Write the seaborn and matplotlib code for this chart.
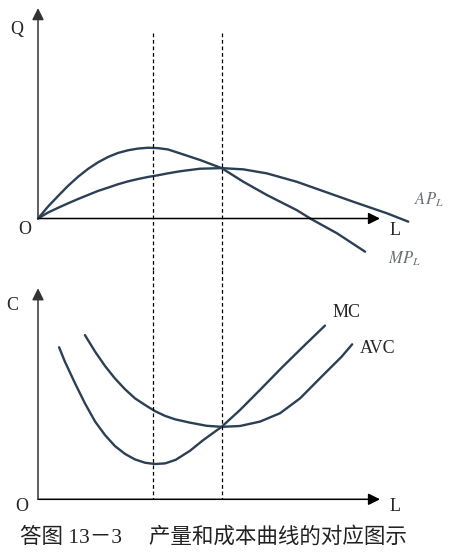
import pandas as pd
import seaborn as sns
import matplotlib.pyplot as plt

# top panel: product curves (L vs Q)
mp_L = [0, 0.29, 0.59, 0.88, 1.18, 1.47, 1.76, 2.06, 2.35, 2.65, 2.94, 3.24, 3.53, 3.82, 4.18,
        4.76, 5.40, 6.04, 6.73, 7.61, 8.05, 8.79, 9.62]
mp_Q = [0, 0.56, 1.07, 1.55, 1.99, 2.36, 2.67, 2.93, 3.12, 3.25, 3.33, 3.37, 3.35, 3.29, 3.10,
        2.79, 2.40, 1.75, 1.12, 0.40, -0.04, -0.70, -1.58]
ap_L = [0, 0.29, 0.59, 0.88, 1.18, 1.47, 1.76, 2.06, 2.35, 2.65, 2.94, 3.24, 3.53, 3.82, 4.18,
        4.76, 5.40, 6.04, 6.73, 7.61, 8.29, 9.27, 10.26, 10.89]
ap_Q = [0, 0.28, 0.51, 0.72, 0.93, 1.12, 1.31, 1.47, 1.63, 1.77, 1.88, 1.98, 2.06, 2.15, 2.25,
        2.37, 2.40, 2.34, 2.15, 1.75, 1.36, 0.80, 0.25, -0.15]

# bottom panel: cost curves (L vs C)
mc_L = [0.62, 0.79, 1.09, 1.38, 1.68, 1.97, 2.26, 2.56, 2.85, 3.15, 3.44, 3.74, 4.05, 4.47,
        4.86, 5.40, 5.94, 6.53, 7.17, 7.85, 8.44]
mc_C = [7.24, 6.56, 5.52, 4.57, 3.70, 3.06, 2.54, 2.16, 1.90, 1.74, 1.68, 1.71, 1.88, 2.31,
        2.82, 3.45, 4.25, 5.21, 6.27, 7.35, 8.27]
avc_L = [1.38, 1.68, 1.97, 2.26, 2.56, 2.85, 3.15, 3.44, 3.74, 4.03, 4.47, 4.96, 5.40, 5.94,
         6.53, 7.12, 7.71, 8.34, 8.93, 9.24]
avc_C = [7.82, 7.03, 6.35, 5.76, 5.24, 4.81, 4.49, 4.20, 3.97, 3.81, 3.65, 3.50, 3.45, 3.49,
         3.70, 4.10, 4.81, 5.84, 6.79, 7.38]

dash_L = [3.37, 5.40]
caption = "答图 13－3　 产量和成本曲线的对应图示"

curve_color = "#2b3f55"
label_color = "#6b6f78"

sns.set_style("white")
plt.rcParams["font.family"] = ["Liberation Serif", "DejaVu Serif"]
plt.rcParams["mathtext.fontset"] = "stix"

fig = plt.figure(figsize=(4.49, 5.57), dpi=100)
ax1 = fig.add_axes([0, 1 - 270 / 557, 1, 270 / 557])
ax2 = fig.add_axes([0, 0, 1, 287 / 557])

for ax in (ax1, ax2):
    ax.set_axis_off()
    ax.set_xlim(-38 / 34, 411 / 34)
ax1.set_ylim(-2.452, 10.405)
ax2.set_ylim(-2.748, 10.919)

top = pd.DataFrame({"L": mp_L, "Q": mp_Q})
top2 = pd.DataFrame({"L": ap_L, "Q": ap_Q})
sns.lineplot(data=top, x="L", y="Q", ax=ax1, color=curve_color, lw=1.7, estimator=None, sort=False)
sns.lineplot(data=top2, x="L", y="Q", ax=ax1, color=curve_color, lw=1.7, estimator=None, sort=False)

bot = pd.DataFrame({"L": mc_L, "C": mc_C})
bot2 = pd.DataFrame({"L": avc_L, "C": avc_C})
sns.lineplot(data=bot, x="L", y="C", ax=ax2, color=curve_color, lw=1.7, estimator=None, sort=False)
sns.lineplot(data=bot2, x="L", y="C", ax=ax2, color=curve_color, lw=1.7, estimator=None, sort=False)

# dashed guides across both panels
for x in dash_L:
    ax1.plot([x, x], [8.83, -2.452], ls=(0, (3, 2.2)), color="black", lw=0.9)
    ax2.plot([x, x], [10.919, 0], ls=(0, (3, 2.2)), color="black", lw=0.9)

arrow = dict(arrowstyle="-|>,head_length=0.5,head_width=0.25", color="black",
             lw=1.1, mutation_scale=14, shrinkA=0, shrinkB=0)
for ax, ytop in ((ax1, 10.02), (ax2, 10.05)):
    ax.annotate("", xy=(10.06, 0), xytext=(0, 0), arrowprops=arrow)
    ax.annotate("", xy=(0, ytop), xytext=(0, 0), arrowprops=dict(arrow, color="#333333"))

fs = 13
ax1.text(-0.62, 8.98, "Q", fontsize=fs, ha="center", va="center")
ax1.text(-0.38, -0.51, "O", fontsize=fs, ha="center", va="center")
ax1.text(10.5, -0.55, "L", fontsize=fs, ha="center", va="center")
ax1.text(11.06, 0.88, "$AP_L$", fontsize=12, color=label_color, ha="left", va="center")
ax1.text(10.29, -1.93, "$MP_L$", fontsize=12, color=label_color, ha="left", va="center")

ax2.text(-0.76, 9.25, "C", fontsize=fs, ha="center", va="center")
ax2.text(-0.47, -0.35, "O", fontsize=fs, ha="center", va="center")
ax2.text(10.5, -0.35, "L", fontsize=fs, ha="center", va="center")
ax2.text(8.65, 8.90, "MC", fontsize=fs, ha="left", va="center")
ax2.text(9.47, 7.19, "AVC", fontsize=fs, ha="left", va="center")

fig.text(20 / 449, 1 - 537 / 557, caption, fontsize=15.5, color="#222222",
         ha="left", va="center", family=["Liberation Serif", "Noto Sans CJK SC"])

fig.savefig("out.png", dpi=100)
